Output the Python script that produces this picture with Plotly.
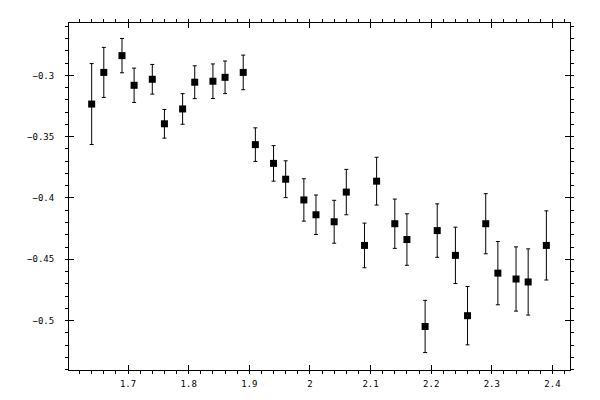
import plotly.graph_objects as go

x_vals = [1.64, 1.66, 1.69, 1.71, 1.74, 1.76, 1.79, 1.81, 1.84, 1.86, 1.89,
          1.91, 1.94, 1.96, 1.99, 2.01, 2.04, 2.06, 2.09, 2.11, 2.14, 2.16,
          2.19, 2.21, 2.24, 2.26, 2.29, 2.31, 2.34, 2.36, 2.39]
y_vals = [-0.3234, -0.2976, -0.2839, -0.3081, -0.3032, -0.3395, -0.3274, -0.3056,
          -0.3048, -0.3016, -0.2976, -0.3565, -0.3718, -0.3847, -0.4016, -0.4137,
          -0.4194, -0.3952, -0.4387, -0.3863, -0.4210, -0.4339, -0.5048, -0.4266,
          -0.4468, -0.4960, -0.4210, -0.4613, -0.4661, -0.4685, -0.4387]
y_err = [0.0330, 0.0204, 0.0140, 0.0140, 0.0121, 0.0117, 0.0125, 0.0134,
         0.0141, 0.0133, 0.0141, 0.0137, 0.0145, 0.0150, 0.0173, 0.0161,
         0.0175, 0.0185, 0.0182, 0.0195, 0.0201, 0.0210, 0.0213, 0.0218,
         0.0230, 0.0238, 0.0245, 0.0258, 0.0262, 0.0270, 0.0282]

x_range = [1.6026, 2.429]
y_range = [-0.5403, -0.2573]

fig = go.Figure()
fig.add_trace(go.Scatter(
    x=x_vals, y=y_vals, mode="markers",
    marker=dict(symbol="square", size=7, color="black"),
    error_y=dict(type="data", array=y_err, visible=True, color="black",
                 thickness=1, width=2),
    showlegend=False,
))
# invisible trace for the overlay axes (inner part of major ticks)
fig.add_trace(go.Scatter(x=[x_vals[0]], y=[y_vals[0]], xaxis="x2", yaxis="y2",
                         mode="markers", marker=dict(opacity=0), showlegend=False,
                         hoverinfo="skip"))

font = dict(family="DejaVu Sans Mono", size=9, color="black")

fig.update_layout(
    width=600, height=400,
    margin=dict(l=61, r=38, t=11, b=38),
    paper_bgcolor="white", plot_bgcolor="white",
    xaxis=dict(range=x_range, showgrid=False, zeroline=False,
               showline=True, linecolor="black", linewidth=1, mirror="ticks",
               ticks="outside", ticklen=3, tickcolor="black", tickwidth=1,
               tick0=0, dtick=0.1, tickfont=font, ticklabelstandoff=2,
               minor=dict(ticks="outside", ticklen=3, tickcolor="black",
                          dtick=0.02, tick0=0, showgrid=False)),
    yaxis=dict(range=y_range, showgrid=False, zeroline=False,
               showline=True, linecolor="black", linewidth=1, mirror="ticks",
               ticks="outside", ticklen=3, tickcolor="black", tickwidth=1,
               tick0=0, dtick=0.05, tickfont=font, ticklabelstandoff=9,
               minor=dict(ticks="outside", ticklen=3, tickcolor="black",
                          dtick=0.01, tick0=0, showgrid=False)),
    xaxis2=dict(range=x_range, overlaying="x", anchor="y2", matches="x",
                showgrid=False, zeroline=False, showline=False,
                showticklabels=False, ticks="inside", ticklen=5,
                tickcolor="black", tickwidth=1, mirror="ticks",
                tick0=0, dtick=0.1),
    yaxis2=dict(range=y_range, overlaying="y", anchor="x2", matches="y",
                showgrid=False, zeroline=False, showline=False,
                showticklabels=False, ticks="inside", ticklen=5,
                tickcolor="black", tickwidth=1, mirror="ticks",
                tick0=0, dtick=0.05),
)

fig.write_html("out.html")
